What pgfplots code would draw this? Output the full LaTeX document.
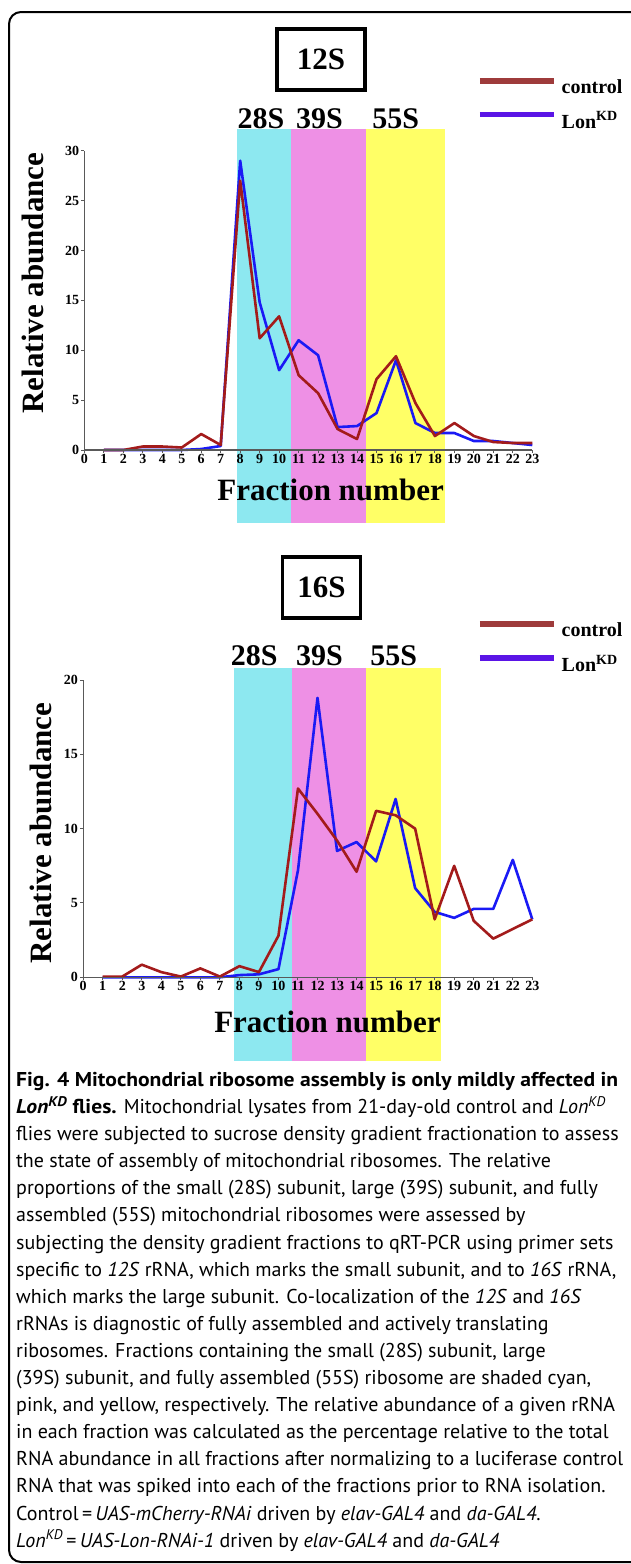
\documentclass[border=0pt]{standalone}
\usepackage{fontspec}
\setmainfont{Liberation Serif}
\newfontfamily\capfont[BoldFeatures={FakeStretch=1.08},BoldItalicFeatures={FakeStretch=1.08}]{PT Sans}
\usepackage{pgfplots}
\pgfplotsset{compat=1.18}

\definecolor{ctrl}{HTML}{A31B1B}
\definecolor{lon}{HTML}{1A1AF5}
\definecolor{ctrlleg}{HTML}{9E3B3B}
\definecolor{lonleg}{HTML}{5A14E6}
\definecolor{bandA}{HTML}{8DE8F0}
\definecolor{bandB}{HTML}{EE90E5}
\definecolor{bandC}{HTML}{FFFF66}

\pgfplotsset{fracax/.style={
  scale only axis, xmin=0, xmax=23, ymin=0, clip=false, axis on top,
  axis lines=left, axis line style={-, line width=1.3pt, gray!70!black},
  tick align=outside, major tick length=3pt,
  tick style={line width=1pt, gray!70!black},
  xtick={0,...,23},
  /pgf/number format/assume math mode=true,
  ticklabel style={font=\fontsize{14}{14}\selectfont\bfseries},
  xticklabel style={inner sep=1pt},
  yticklabel style={inner sep=2pt},
  label style={font=\fontsize{31}{31}\selectfont\bfseries},
  legend style={draw=none, fill=none, inner sep=0pt, row sep=13pt, column sep=3pt,
    font=\fontsize{20}{20}\selectfont\bfseries, anchor=north west},
  legend cell align=left,
  legend image code/.code={\draw[##1] (0pt,6pt) -- (74pt,6pt);},
}}

\begin{document}
\begin{tikzpicture}
\useasboundingbox (0pt,0pt) rectangle (630pt,-1564pt);

% ---------- 12S ----------
\begin{axis}[fracax, at={(84.4pt,-450pt)}, anchor=south west,
  width=447.9pt, height=299.3pt, ymax=30, ytick={0,5,...,30},
  xlabel={Fraction number}, ylabel={Relative abundance},
  xlabel style={at={(axis description cs:0.5496,-0.1337)}, anchor=center},
  ylabel style={at={(axis description cs:-0.1148,0.558)}, anchor=center},
  legend style={at={(axis description cs:0.8766,1.2462)}}]
\addplot[draw=none, fill=bandA, forget plot] coordinates {(7.84,-7.29) (10.63,-7.29) (10.63,32.14) (7.84,32.14)} -- cycle;
\addplot[draw=none, fill=bandB, forget plot] coordinates {(10.63,-7.29) (14.44,-7.29) (14.44,32.14) (10.63,32.14)} -- cycle;
\addplot[draw=none, fill=bandC, forget plot] coordinates {(14.44,-7.29) (18.51,-7.29) (18.51,32.14) (14.44,32.14)} -- cycle;
\addplot[lon, line width=2.6pt, line join=round, forget plot] coordinates {
  (1,0) (2,0) (3,0) (4,0) (5,0) (6,0.1) (7,0.4) (8,29.0) (9,14.8) (10,8.0)
  (11,11.0) (12,9.5) (13,2.3) (14,2.4) (15,3.7) (16,9.0) (17,2.7) (18,1.7)
  (19,1.7) (20,0.9) (21,0.9) (22,0.7) (23,0.5)};
\addplot[ctrl, line width=2.6pt, line join=round, forget plot] coordinates {
  (1,0) (2,0) (3,0.35) (4,0.35) (5,0.25) (6,1.6) (7,0.5) (8,27.0) (9,11.2) (10,13.4)
  (11,7.5) (12,5.7) (13,2.1) (14,1.1) (15,7.1) (16,9.4) (17,4.7) (18,1.4)
  (19,2.7) (20,1.4) (21,0.8) (22,0.7) (23,0.7)};
\addlegendimage{ctrlleg, line width=5.5pt}
\addlegendentry{control}
\addlegendimage{lonleg, line width=5.5pt}
\addlegendentry{Lon\textsuperscript{KD}}
\node[font=\fontsize{30}{30}\selectfont\bfseries, anchor=base] at (axis cs:9.07,32.27) {28S};
\node[font=\fontsize{30}{30}\selectfont\bfseries, anchor=base] at (axis cs:12.07,32.27) {39S};
\node[font=\fontsize{30}{30}\selectfont\bfseries, anchor=base] at (axis cs:15.99,32.27) {55S};
\node[draw, line width=3.5pt, minimum width=88pt, minimum height=61pt, inner sep=0pt,
  font=\fontsize{31}{31}\selectfont\bfseries] at (axis cs:12.15,39.14) {12S};
\end{axis}

% ---------- 16S ----------
\begin{axis}[fracax, at={(83.2pt,-977.3pt)}, anchor=south west,
  width=449.1pt, height=297.3pt, ymax=20, ytick={0,5,...,20},
  xlabel={Fraction number}, ylabel={Relative abundance},
  xlabel style={at={(axis description cs:0.544,-0.1494)}, anchor=center},
  ylabel style={at={(axis description cs:-0.094,0.4854)}, anchor=center},
  legend style={at={(axis description cs:0.8769,1.2008)}}]
\addplot[draw=none, fill=bandA, forget plot] coordinates {(7.71,-5.61) (10.70,-5.61) (10.70,20.79) (7.71,20.79)} -- cycle;
\addplot[draw=none, fill=bandB, forget plot] coordinates {(10.70,-5.61) (14.50,-5.61) (14.50,20.79) (10.70,20.79)} -- cycle;
\addplot[draw=none, fill=bandC, forget plot] coordinates {(14.50,-5.61) (18.30,-5.61) (18.30,20.79) (14.50,20.79)} -- cycle;
\addplot[lon, line width=2.6pt, line join=round, forget plot] coordinates {
  (1,0) (2,0) (3,0) (4,0) (5,0) (6,0) (7,0) (8,0.15) (9,0.2) (10,0.55)
  (11,7.2) (12,18.8) (13,8.5) (14,9.1) (15,7.8) (16,12.0) (17,6.0) (18,4.4)
  (19,4.0) (20,4.6) (21,4.6) (22,7.9) (23,3.9)};
\addplot[ctrl, line width=2.6pt, line join=round, forget plot] coordinates {
  (1,0.05) (2,0.05) (3,0.85) (4,0.35) (5,0.05) (6,0.6) (7,0.05) (8,0.75) (9,0.35) (10,2.8)
  (11,12.7) (12,11.0) (13,9.2) (14,7.1) (15,11.2) (16,10.9) (17,10.0) (18,3.9)
  (19,7.5) (20,3.8) (21,2.6) (22,3.25) (23,3.9)};
\addlegendimage{ctrlleg, line width=5.5pt}
\addlegendentry{control}
\addlegendimage{lonleg, line width=5.5pt}
\addlegendentry{Lon\textsuperscript{KD}}
\node[font=\fontsize{30}{30}\selectfont\bfseries, anchor=base] at (axis cs:8.76,20.96) {28S};
\node[font=\fontsize{30}{30}\selectfont\bfseries, anchor=base] at (axis cs:12.10,20.96) {39S};
\node[font=\fontsize{30}{30}\selectfont\bfseries, anchor=base] at (axis cs:15.90,20.96) {55S};
\node[draw, line width=3.5pt, minimum width=78pt, minimum height=61pt, inner sep=0pt,
  font=\fontsize{31}{31}\selectfont\bfseries] at (axis cs:12.21,26.22) {16S};
\end{axis}

% ---------- caption ----------
\node[anchor=north west, inner sep=0pt, align=left,
  font=\capfont\fontsize{20}{27.1}\selectfont] at (16pt,-1072pt) {%
\textbf{Fig. 4 Mitochondrial ribosome assembly is only mildly affected in}\\
\textbf{\textit{Lon\textsuperscript{KD}} flies.} Mitochondrial lysates from 21-day-old control and \textit{Lon\textsuperscript{KD}}\\
flies were subjected to sucrose density gradient fractionation to assess\\
the state of assembly of mitochondrial ribosomes. The relative\\
proportions of the small (28S) subunit, large (39S) subunit, and fully\\
assembled (55S) mitochondrial ribosomes were assessed by\\
subjecting the density gradient fractions to qRT-PCR using primer sets\\
specific to \textit{12S} rRNA, which marks the small subunit, and to \textit{16S} rRNA,\\
which marks the large subunit. Co-localization of the \textit{12S} and \textit{16S}\\
rRNAs is diagnostic of fully assembled and actively translating\\
ribosomes. Fractions containing the small (28S) subunit, large\\
(39S) subunit, and fully assembled (55S) ribosome are shaded cyan,\\
pink, and yellow, respectively. The relative abundance of a given rRNA\\
in each fraction was calculated as the percentage relative to the total\\
RNA abundance in all fractions after normalizing to a luciferase control\\
RNA that was spiked into each of the fractions prior to RNA isolation.\\
Control\,=\,\textit{UAS-mCherry-RNAi} driven by \textit{elav-GAL4} and \textit{da-GAL4}.\\
\textit{Lon\textsuperscript{KD}}\,=\,\textit{UAS-Lon-RNAi-1} driven by \textit{elav-GAL4} and \textit{da-GAL4}};

% ---------- frame ----------
\draw[line width=2pt, rounded corners=12pt] (9pt,-12pt) rectangle (660pt,-1562pt);
\end{tikzpicture}
\end{document}
